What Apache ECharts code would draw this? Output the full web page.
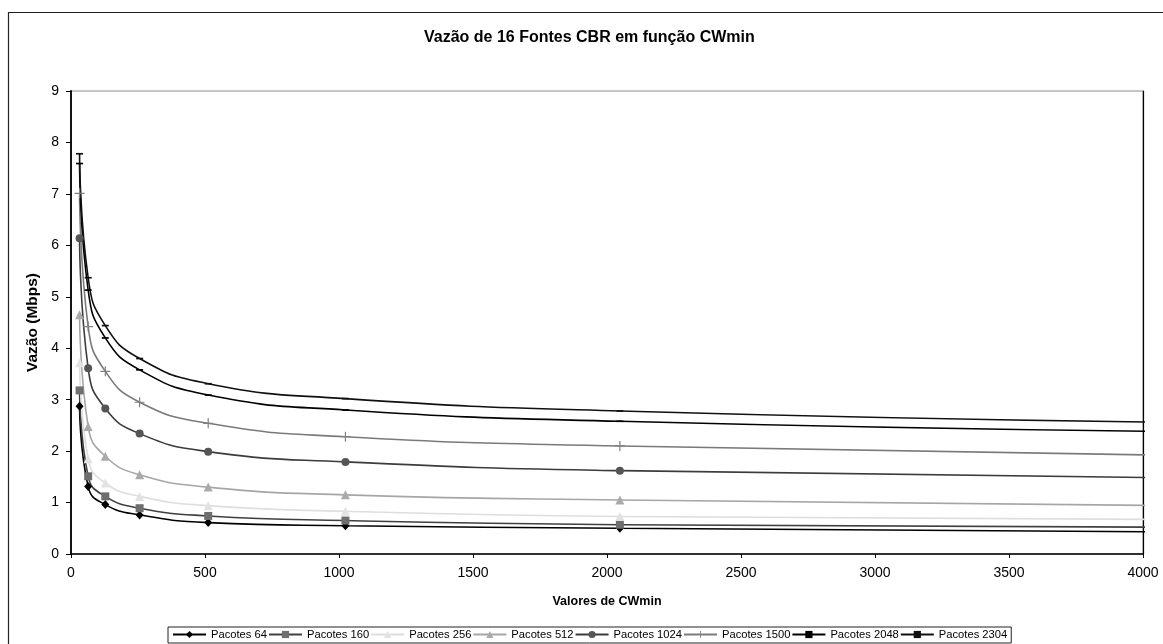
<!DOCTYPE html>
<html>
<head>
<meta charset="utf-8">
<script src="https://cdn.jsdelivr.net/npm/echarts@6/dist/echarts.min.js"></script>
<style>
html,body{margin:0;padding:0;background:#fff;}
#chart{width:1163px;height:644px;}
</style>
</head>
<body>
<div id="chart"></div>
<script>
const titleText = 'Vazão de 16 Fontes CBR em função CWmin';
const xName = 'Valores de CWmin';
const yName = 'Vazão (Mbps)';
const cwmin = [32, 64, 128, 256, 512, 1024, 2048, 4096];
const seriesNames = ['Pacotes 64','Pacotes 160','Pacotes 256','Pacotes 512','Pacotes 1024','Pacotes 1500','Pacotes 2048','Pacotes 2304'];
const p64   = [2.87, 1.31, 0.96, 0.76, 0.61, 0.55, 0.50, 0.43];
const p160  = [3.18, 1.51, 1.12, 0.89, 0.74, 0.65, 0.57, 0.52];
const p256  = [3.72, 1.85, 1.38, 1.12, 0.94, 0.83, 0.73, 0.67];
const p512  = [4.65, 2.48, 1.90, 1.54, 1.30, 1.15, 1.05, 0.94];
const p1024 = [6.14, 3.61, 2.83, 2.34, 1.99, 1.79, 1.62, 1.48];
const p1500 = [7.01, 4.42, 3.55, 2.95, 2.54, 2.28, 2.10, 1.92];
const p2048 = [7.59, 5.13, 4.20, 3.58, 3.09, 2.80, 2.58, 2.38];
const p2304 = [7.78, 5.37, 4.44, 3.80, 3.31, 3.02, 2.78, 2.56];
const values = [p64, p160, p256, p512, p1024, p1500, p2048, p2304];

const plusPath = 'path://M4.4,0H5.6V4.4H10V5.6H5.6V10H4.4V5.6H0V4.4H4.4Z';
const dashPath = 'path://M0,0H10V2.4H0Z';
const styles = [
  {line:'#000000', mark:'#000000', symbol:'diamond', size:[8,9], keep:false},
  {line:'#404040', mark:'#6e6e6e', symbol:'rect', size:8, keep:false},
  {line:'#dedede', mark:'#e2e2e2', symbol:'triangle', size:9, keep:false},
  {line:'#a6a6a6', mark:'#aaaaaa', symbol:'triangle', size:9, keep:false},
  {line:'#3c3c3c', mark:'#555555', symbol:'circle', size:8, keep:false},
  {line:'#7a7a7a', mark:'#808080', symbol:plusPath, size:10, keep:false},
  {line:'#000000', mark:'#000000', symbol:dashPath, size:7, keep:true},
  {line:'#101010', mark:'#101010', symbol:dashPath, size:7, keep:true}
];

const font = '"Liberation Sans", Arial, sans-serif';
const chart = echarts.init(document.getElementById('chart'), null, {renderer:'canvas'});

const series = seriesNames.map((name, i) => ({
  name: name,
  type: 'line',
  data: cwmin.map((x, j) => [x, values[i][j]]),
  smooth: 0.5,
  clip: true,
  symbol: styles[i].symbol,
  symbolSize: styles[i].size,
  symbolKeepAspect: styles[i].keep,
  showAllSymbol: true,
  lineStyle: {color: styles[i].line, width: 1.6},
  itemStyle: {color: styles[i].mark, borderWidth: 0},
  emphasis: {disabled: true},
  animation: false
}));

chart.setOption({
  animation: false,
  backgroundColor: '#ffffff',
  title: {
    text: titleText,
    left: 424, top: 30, padding: 0,
    textStyle: {fontFamily: font, fontSize: 16, fontWeight: 'bold', color: '#000'}
  },
  graphic: [{
    type: 'rect',
    shape: {x: 8.5, y: 12.5, width: 1300, height: 800},
    style: {fill: 'none', stroke: '#222', lineWidth: 1.2},
    silent: true, z: -10
  }],
  grid: {
    left: 71, right: 20, top: 91, bottom: 90,
    show: true, borderColor: '#8a8a8a', borderWidth: 1, backgroundColor: '#fff'
  },
  legend: {
    data: seriesNames,
    left: 168, top: 627,
    orient: 'horizontal',
    padding: [2, 4, 3, 4],
    borderColor: '#222', borderWidth: 1,
    itemWidth: 33, itemHeight: 9, itemGap: 1,
    textStyle: {fontFamily: font, fontSize: 11.2, color: '#000'}
  },
  xAxis: {
    type: 'value', min: 0, max: 4000, interval: 500,
    name: xName, nameLocation: 'middle', nameGap: 41,
    nameTextStyle: {fontFamily: font, fontSize: 12.5, fontWeight: 'bold', color: '#000'},
    axisLine: {show: true, onZero: false, lineStyle: {color: '#000', width: 1.5}},
    axisTick: {show: true, inside: false, length: 4, lineStyle: {color: '#000'}},
    axisLabel: {fontFamily: font, fontSize: 14, color: '#000', margin: 12, formatter: v => String(v)},
    splitLine: {show: false}
  },
  yAxis: [{
    type: 'value', min: 0, max: 9, interval: 1,
    name: yName, nameLocation: 'middle', nameGap: 28,
    nameTextStyle: {fontFamily: font, fontSize: 15.5, fontWeight: 'bold', color: '#000'},
    axisLine: {show: true, onZero: false, lineStyle: {color: '#000', width: 1.8}},
    axisTick: {show: true, inside: false, length: 5, lineStyle: {color: '#000'}},
    axisLabel: {fontFamily: font, fontSize: 14, color: '#000', margin: 12},
    splitLine: {show: false}
  }, {
    type: 'value', min: 0, max: 9, interval: 1, position: 'right',
    axisLine: {show: true, onZero: false, lineStyle: {color: '#000', width: 1.2}},
    axisTick: {show: false}, axisLabel: {show: false}, splitLine: {show: false}
  }],
  series: series
});
</script>
</body>
</html>
